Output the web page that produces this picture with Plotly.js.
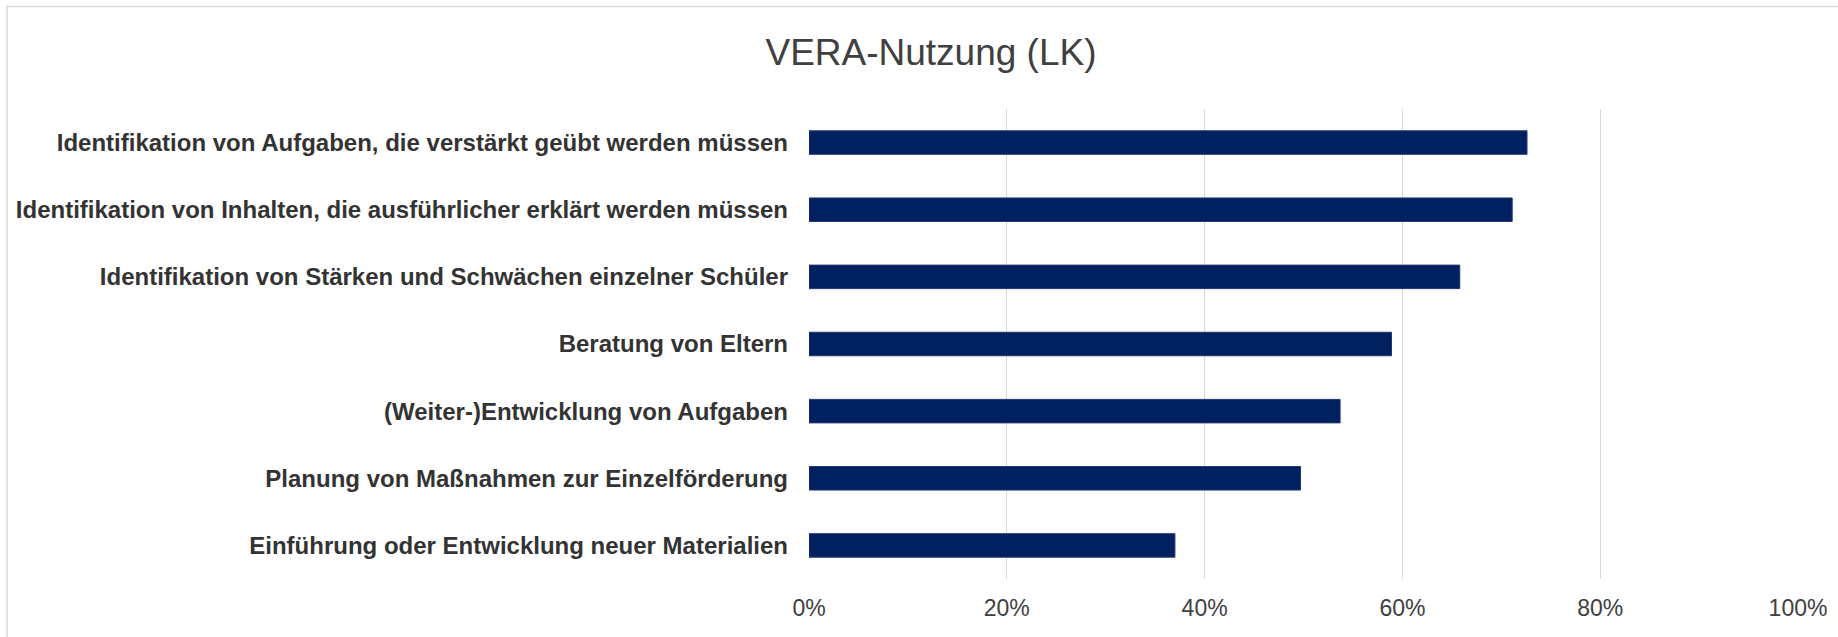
<!DOCTYPE html>
<html>
<head>
<meta charset="utf-8">
<script src="https://cdn.plot.ly/plotly-3.0.1.min.js"></script>
<style>
  html, body { margin: 0; padding: 0; background: #fff; }
  #chart { width: 1838px; height: 637px; }
</style>
</head>
<body>
<div id="chart"></div>
<script>
const categories = [
  "Identifikation von Aufgaben, die verstärkt geübt werden müssen",
  "Identifikation von Inhalten, die ausführlicher erklärt werden müssen",
  "Identifikation von Stärken und Schwächen einzelner Schüler",
  "Beratung von Eltern",
  "(Weiter-)Entwicklung von Aufgaben",
  "Planung von Maßnahmen zur Einzelförderung",
  "Einführung oder Entwicklung neuer Materialien"
];
const values = [0.726, 0.711, 0.658, 0.589, 0.537, 0.497, 0.370];
const tickValues = [0, 0.2, 0.4, 0.6, 0.8, 1.0];
const tickLabels = ["0%", "20%", "40%", "60%", "80%", "100%"];
const chartTitle = "VERA-Nutzung (LK)";

const W = 1838, H = 637;
const L = 808.5, R = 39.5, T = 109.3, B = 58;
const pw = W - L - R, ph = H - T - B;
function px2paperX(x) { return (x - L) / pw; }
function px2paperY(y) { return (H - B - y) / ph; }

const trace = {
  type: "bar",
  orientation: "h",
  x: values,
  y: categories,
  width: 0.35,
  marker: { color: "#002060", line: { color: "#22356f", width: 1 } },
  hoverinfo: "skip"
};

const layout = {
  width: W,
  height: H,
  paper_bgcolor: "#ffffff",
  plot_bgcolor: "#ffffff",
  margin: { l: L, r: R, t: T, b: B, pad: 0 },
  showlegend: false,
  font: { family: "Liberation Sans, Arial, sans-serif", color: "#404040" },
  title: {
    text: chartTitle,
    font: { family: "Liberation Sans, Arial, sans-serif", size: 37, color: "#404040" },
    xref: "container", x: 931 / W, xanchor: "center",
    yref: "container", y: 1 - 52 / H, yanchor: "middle"
  },
  xaxis: {
    range: [0, 1],
    tickvals: tickValues,
    ticktext: tickLabels,
    showgrid: true,
    gridcolor: "#d9d9d9",
    gridwidth: 1.3,
    zeroline: false,
    showline: false,
    ticks: "",
    ticklabelstandoff: 13,
    tickfont: { family: "Liberation Sans, Arial, sans-serif", size: 23, color: "#404040" },
    fixedrange: true
  },
  yaxis: {
    type: "category",
    categoryorder: "array",
    categoryarray: categories,
    autorange: false,
    range: [6.5, -0.5],
    showgrid: false,
    zeroline: false,
    showline: false,
    ticks: "",
    ticklabelstandoff: 20,
    tickfont: { family: "Liberation Sans, Arial, sans-serif", size: 24, color: "#333333", weight: "bold" },
    fixedrange: true
  },
  shapes: [
    {
      type: "rect", xref: "paper", yref: "paper",
      x0: px2paperX(5.8), x1: px2paperX(W + 20),
      y0: px2paperY(H + 20), y1: px2paperY(6.8),
      line: { color: "#d9d9d9", width: 1.5 },
      fillcolor: "rgba(0,0,0,0)",
      layer: "below"
    }
  ]
};

Plotly.newPlot("chart", [trace], layout, { displayModeBar: false, staticPlot: true });
</script>
</body>
</html>
